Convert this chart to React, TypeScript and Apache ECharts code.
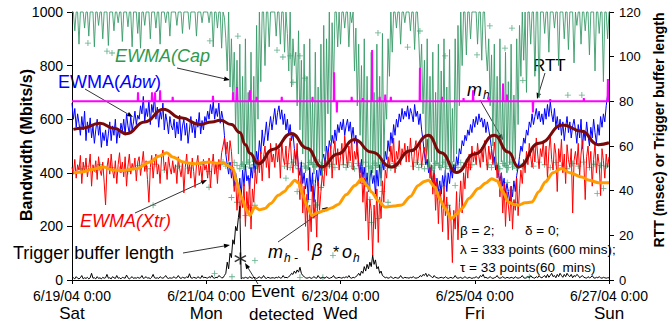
import React, { useEffect, useRef } from 'react';
import * as echarts from 'echarts';

// ---- time axis (hours from 6/19/04 0:00) ----
const xDates = ['6/19/04 0:00', '6/21/04 0:00', '6/23/04 0:00', '6/25/04 0:00', '6/27/04 0:00'];
const xDays = ['Sat', 'Mon', 'Wed', 'Fri', 'Sun'];
const STEP = 0.5; // hours between samples of the dense series

// EWMA(Xtr) (Mbits/s), every 0.5 h
const xtr = [
  420,395,450,380,430,410,465,360,440,400,455,385,420,470,350,430,405,445,375,460,410,390,440,365,
  280,420,455,395,470,410,380,445,360,430,475,400,440,385,460,350,425,470,395,435,410,455,370,440,
  460,390,435,480,405,445,375,290,420,465,380,440,470,395,430,360,455,485,410,440,375,460,420,395,
  445,400,430,360,460,415,385,440,325,420,470,395,435,380,455,405,345,430,465,390,425,370,450,410,
  430,380,455,345,420,470,395,440,360,450,410,475,500,530,470,515,445,520,480,400,330,380,260,350,
  230,310,270,360,200,330,250,380,190,340,290,410,360,450,400,480,370,460,500,420,470,380,510,440,
  470,420,510,440,490,380,520,455,430,500,410,475,530,445,400,485,430,510,380,300,420,250,350,200,
  320,110,280,180,350,230,300,160,370,260,330,400,350,450,390,480,420,500,380,470,520,430,490,410,
  460,510,430,540,470,420,500,445,530,410,480,450,520,440,360,420,290,380,220,330,150,300,260,90,
  280,190,340,140,310,230,370,290,410,380,460,420,500,440,530,400,480,450,520,430,490,460,510,440,
  500,440,530,460,410,490,520,430,480,510,420,470,495,440,525,455,380,430,320,400,260,370,210,340,
  300,180,350,240,310,150,280,220,65,260,190,330,150,290,370,250,400,340,450,380,470,410,500,440,
  480,430,510,460,420,495,440,520,470,410,500,450,485,430,515,460,380,440,310,400,250,360,200,330,
  280,220,350,190,300,260,380,240,340,410,360,450,400,480,430,510,460,420,500,440,530,470,415,490,
  460,520,430,500,380,480,540,450,410,510,470,330,490,440,525,400,470,360,505,450,420,490,250,445,
  480,430,510,390,470,520,440,300,460,500,420,480,350,450,510,400,470,430,315,490,445,380,470,420,
  460,
];

// EWMA(Abw) (Mbits/s), every 0.5 h
const abw = [
  660,600,640,570,620,585,540,610,560,630,520,590,550,605,530,575,510,560,600,540,580,495,550,520,
  560,500,545,590,520,575,540,600,510,565,530,585,555,600,540,620,575,545,610,560,590,630,580,615,
  600,650,620,685,590,640,610,670,580,655,625,690,600,645,570,630,600,660,560,620,590,545,610,575,
  560,600,530,590,545,615,520,575,600,540,585,510,560,610,550,590,530,600,570,625,545,595,560,610,
  590,630,600,655,620,665,600,640,610,660,585,630,600,540,470,430,395,440,380,420,350,400,370,330,
  380,310,410,350,430,370,390,340,420,380,450,400,480,440,520,470,560,500,540,590,520,570,610,560,
  600,640,580,625,650,600,635,580,620,560,600,540,580,520,550,490,450,480,420,390,440,360,400,340,
  380,300,420,330,400,290,360,410,350,430,390,450,470,430,500,460,520,490,540,510,560,520,580,550,
  590,560,600,540,575,600,555,590,530,570,510,540,480,430,400,450,380,420,350,400,330,380,410,360,
  390,320,410,350,430,380,440,410,480,450,520,480,550,510,580,540,600,570,620,590,640,600,630,610,
  650,600,640,620,590,655,610,630,580,620,560,520,470,430,450,400,420,380,360,410,340,380,330,370,
  320,390,350,410,330,400,360,420,380,430,400,460,430,490,470,520,500,540,520,560,540,580,550,600,
  570,610,580,620,590,605,570,600,550,590,560,530,490,440,460,410,430,390,370,400,350,380,320,360,
  330,290,350,310,370,330,390,420,460,500,480,530,510,560,540,590,570,620,580,610,640,600,630,590,
  620,580,640,600,655,610,665,620,590,640,570,610,560,600,540,590,520,570,610,550,590,530,575,600,
  560,510,580,530,600,490,560,520,590,540,500,570,530,600,550,510,580,540,610,570,620,590,650,690,
  680,
];

// EWMA(Cap) (Mbits/s), every 0.5 h
const cap = [
  1000,1000,930,1000,1000,880,1000,1000,1000,940,1000,1000,910,1000,1000,1000,870,1000,1000,950,1000,1000,900,1000,
  1000,1000,875,1000,1000,1000,930,1000,1000,960,1000,1000,890,1000,1000,1000,945,1000,1000,870,1000,1000,1000,920,
  1000,865,1000,1000,950,1000,1000,1000,900,1000,1000,1000,940,1000,1000,880,1000,1000,1000,960,1000,1000,910,1000,
  1000,1000,1000,950,1000,1000,1000,920,1000,1000,1000,1000,935,1000,1000,1000,1000,910,1000,1000,1000,960,1000,1000,
  1000,1000,960,1000,1000,870,1000,1000,940,1000,1000,865,1000,980,900,780,1000,720,900,670,850,560,820,470,
  880,420,760,410,900,430,700,415,850,440,760,425,950,600,1000,740,1000,1000,800,1000,1000,870,1000,1000,
  1000,1000,910,1000,1000,880,1000,1000,850,1000,920,780,1000,720,900,800,850,650,930,560,820,470,880,400,
  760,410,900,430,680,395,850,420,720,440,880,390,950,480,900,620,1000,520,960,700,1000,1000,870,1000,
  880,1000,1000,940,1000,1000,870,1000,960,1000,780,940,650,880,540,800,430,900,380,760,420,340,850,400,
  700,360,880,420,760,350,920,450,680,600,900,760,1000,850,1000,1000,940,1000,1000,880,1000,1000,960,1000,
  1000,1000,930,1000,1000,860,1000,1000,900,760,880,620,820,480,900,420,760,440,850,400,700,430,880,410,
  780,420,900,390,720,430,860,410,640,440,900,470,950,650,1000,800,1000,1000,840,1000,1000,900,1000,1000,
  1000,1000,880,1000,1000,820,1000,1000,860,780,900,650,840,500,880,430,760,410,900,440,700,420,850,400,
  740,430,880,410,690,450,900,580,950,760,1000,820,1000,700,1000,1000,880,1000,1000,760,1000,1000,680,1000,
  1000,1000,920,1000,1000,850,1000,1000,1000,940,1000,1000,800,1000,1000,1000,900,1000,1000,860,1000,1000,1000,810,
  1000,950,1000,1000,880,1000,1000,930,1000,1000,840,1000,1000,1000,780,1000,1000,920,1000,1000,740,1000,1000,900,
  1000,
];

// Trigger buffer length (right axis), every 0.5 h
const trigger = [
  0.5,1,0.5,1.5,0.8,0.5,1,2,0.5,1,0.7,1.2,0.5,1,3,0.8,1,0.5,1.5,0.7,1,0.5,1.2,0.8,
  1,2.5,0.8,1,0.5,1.5,1,0.7,2,0.8,1,0.5,1.2,1,0.8,2.2,1,0.5,1,1.5,0.7,1,0.8,1.2,
  0.8,1,2,0.7,1,1.5,0.8,1,0.6,1.2,2.5,1,0.8,1,0.7,1.5,1,0.8,1.2,2,1,0.7,1,0.8,
  1,1.5,0.8,1,2,1,0.7,1.2,1,0.8,1.5,1,2.8,1,0.8,1.2,1,0.7,1.5,1,0.8,2,1,1.2,
  1,0.8,1.5,1,2,1,0.8,1.2,1,2,1.5,1,1,2,3,8,5,12,10,18,16,24,22,28,
  33,0.5,1,0.8,1.2,1,0.7,1.5,1,0.8,1.2,1,0.7,1,1.5,0.8,1,2,1,0.7,1.2,1,0.8,1,
  1,0.8,1.2,1,1.5,0.8,1,2,1,1.2,1,1.5,2,3,2.5,4,3,4.5,3.5,5.7,3,2,1.5,1,
  0.8,1,1.2,0.7,1,1.5,1,0.8,2,1,0.7,1.2,1,0.8,1.5,1,0.7,1,1.2,2,1,0.8,1,1.2,
  1,0.8,1.2,1,1.5,1,2,1,0.8,1.2,1,1.5,2,3,2,4,3,6,4,7,5,8,6,11,
  7,9,5,6,3,4,2,1.5,1,1.2,0.8,1,1.5,1,0.7,1.2,1,0.8,1,2,1,0.8,1.2,1,
  1,0.8,1.2,1,1.5,1,0.8,1,1.2,2,1.5,2.5,2,3,1.5,2.5,2,1.5,1,2,1.2,1,0.8,1,
  1.2,1,0.8,1.5,1,0.7,1,1.2,0.8,1,2,1,0.8,1,1.2,0.7,1,1.5,1,0.8,1.2,1,0.7,1,
  1,1.5,1,0.8,2,1.5,2.5,1,1.2,0.8,1,1.5,1,0.7,1,1.2,2,1,0.8,1,1.5,1,0.8,1.2,
  1,0.8,1.2,1,0.7,1.5,1,0.8,1,1.2,2,1,0.8,1,1.5,1,2,1.2,1,0.8,1.5,1,2,1.2,
  1,1.5,2,1,2.5,1.2,2,3,1.5,2,1,2.5,1.5,3,2,1.2,2.5,1.5,3,2,1.5,2.5,1,2,
  1.5,2.5,2,1,1.5,2,1.2,1,0.8,1.5,1,1.2,2,1,0.8,1.2,1,1.5,1,0.8,1.2,1,0.8,1,
  1,
];

// RTT (msec, right axis): baseline and single-sample spikes [hour, value]
const rttBase = 80;
const rttSpikes = [
  [23.6,84],[28.6,84],[29.7,84],[31.5,85],[36,82],[50.4,82.5],[57.6,84],[59,86.4],[63.6,85],[66,82],
  [75,82],[86,82],[93.7,93],[94.7,75],[100,82],[104,81.5],[107.3,103],[110,82],[112,83],[114,82],
  [124.4,95],[132.3,82],[140,81.5],[143.4,85],[149,82],[154.1,88],[155.5,83],[164.8,75],[171,81],
  [183,81.5],[191.6,90],
];

// m_h (smooth mean) [hour, Mbits/s]
const mh = [
  [0.5,562],[3.5,566],[10,585],[15,566],[19.5,546],[26,590],[32.6,637],[39,605],[45.8,580],[50,590],
  [53,596],[57,580],[60,550],[62,505],[63.6,473],[66.6,434],[72,488],[78.5,547],[84,492],[89.3,422],
  [95,470],[101,524],[107,478],[114.3,422],[121,482],[127.4,540],[132,475],[137.5,401],[144,470],
  [151,540],[156,478],[159.6,422],[167,510],[175.5,578],[182,556],[188.2,505],[192,512],
];

// m_h - beta*o_h [hour, Mbits/s]
const mhBo = [
  [0.5,400],[3.5,403],[7,412],[11.3,422],[14.5,410],[18.3,409],[23.2,416],[27.9,440],[31,462],[33.9,475],
  [36,459],[39.8,440],[42,436],[44.6,434],[47,438],[49.3,440],[52,436],[54,438],[56,425],[57.6,415],
  [58.9,366],[60.5,310],[62.5,260],[63.6,241],[65.4,272],[67,262],[69,267],[71,285],[73.8,316],[76,330],
  [77.5,350],[79.7,372],[81,362],[82.5,320],[83.9,279],[85.7,241],[88,252],[90.5,260],[93,270],[95.2,282],
  [98,318],[101.2,353],[103.6,378],[105.5,352],[107.1,328],[109.5,296],[111.9,272],[115,276],[117.9,280],
  [121,312],[123.8,353],[126,368],[127.4,372],[129.8,347],[131.5,302],[133.4,266],[135.7,229],[137.5,246],
  [139.3,266],[142,305],[145.3,341],[148,362],[150,378],[152,370],[154,330],[156,291],[158,282],[159.6,279],
  [162,288],[164.4,291],[167,330],[169.2,366],[172,400],[175,416],[178,400],[182.2,384],[185,372],
  [188.2,363],[192,363],
];

// green "+" points [hour, Mbits/s]
const ohUpper = [
  [5.7,884],[12.5,854],[14.3,847],[49.3,892],[59.3,910],[73.3,858],[75.4,832],[78,836],[79,738],[81.5,836],
  [83.3,753],[109.4,922],[120,869],[124.4,929],[133.4,836],[144.8,840],[149.4,948],[154.8,865],[157.3,940],
  [161.2,745],[177.3,690],[182.3,690],
];
const ohBand = [
  [3,415],[5,425],[8.5,410],[10,430],[14,420],[17,412],[20,405],[24,428],[27,415],[30,432],[33,410],[38,425],
  [42,418],[46,430],[49,405],[52,425],
  [53,430],[54,440],[55,425],[56,435],[57,420],[58,438],[59,428],[60,415],[61,432],[62,422],[63,440],[64,418],
  [65,430],[66,425],[67,436],
  [76,425],[77,435],[78,420],[79,440],[80,428],[81,415],[82,436],[83,425],[84,418],[85,438],[86,430],[87,422],
  [88,440],[89,428],[90,418],[91,435],[92,425],[93,432],[94,420],
  [97,430],[98,420],[99,438],[100,425],[101,415],[102,435],[103,428],[104,420],[105,440],[106,425],[107,418],
  [108,436],[109,428],[110,420],[111,438],[112,425],[113,430],[114,418],[115,435],[116,425],
  [122,425],[123,438],[124,420],[125,432],[126,415],[127,440],[128,425],[129,418],[130,435],[131,428],[132,420],
  [133,440],[134,425],[135,415],[136,432],[137,428],[138,420],[139,438],[140,425],[141,432],[142,420],[143,430],
  [149,430],[150,420],[151,438],[152,425],[153,415],[154,435],[155,428],[156,420],[157,440],[158,425],[159,418],
  [160,432],[161,425],[162,436],
  [165,425],[167,440],[169,430],[171,420],[173,438],[175,428],[177,415],[179,435],[181,425],[183,440],[185,420],
  [187,432],[189,428],[191,425],
];
const ohLow = [
  [29,279],[49,346],[57,308],[59,290],[62,240],[63.5,270],[65.4,279],[76.5,380],[80.5,330],[84.5,300],[86,370],
  [87.5,280],[89,345],[93.3,92],[104.5,360],[106.5,300],[107,215],[109.4,230],[111,330],[113,290],[129,379],
  [131,316],[133,350],[134.4,279],[137,353],[155.6,364],[156.6,335],[158.4,290],[187.8,323],[190,342],
  [51,24],[57.2,12],[65.4,73],[81.5,10],[89.7,10],[163.5,12],
];

// event detected marker [hour, right-axis value]
const eventPt = [[60.2, 9.6]];

const SANS = '"Liberation Sans", Arial, Helvetica, sans-serif';
const GREEN = '#3a9b6a';
const PLUS = 'path://M4.3,0h1.4v10h-1.4zM0,4.3h10v1.4h-10z';
const STAR = 'path://M5.3,0L6.7,0L6.7,12L5.3,12ZM10.846,9.606L11.546,8.394L1.154,2.394L0.454,3.606ZM0.454,8.394L1.154,9.606L11.546,3.606L10.846,2.394Z';

const toPts = (vals: number[]) => vals.map((v, i) => [i * STEP, v]);

function buildRtt() {
  const pts: number[][] = [[0, rttBase]];
  rttSpikes.forEach(([h, v]) => {
    pts.push([h - 0.12, rttBase], [h, v], [h + 0.12, rttBase]);
  });
  pts.push([192, rttBase]);
  return pts;
}

function arrow(x1: number, y1: number, x2: number, y2: number) {
  const dx = x2 - x1, dy = y2 - y1;
  const L = Math.sqrt(dx * dx + dy * dy);
  const ux = dx / L, uy = dy / L;
  const len = 6, w = 2.3;
  const bx = x2 - ux * len, by = y2 - uy * len;
  return [
    { type: 'line', shape: { x1, y1, x2: bx, y2: by }, style: { stroke: '#000', lineWidth: 0.8 }, silent: true },
    {
      type: 'polygon',
      shape: { points: [[x2, y2], [bx - uy * w, by + ux * w], [bx + uy * w, by - ux * w]] },
      style: { fill: '#000' },
      silent: true,
    },
  ];
}

function txt(x: number, y: number, text: string, size: number, fill: string, opts: any = {}) {
  return {
    type: 'text',
    x,
    y,
    rotation: opts.rotation || 0,
    silent: true,
    style: {
      text,
      fill,
      fontSize: size,
      fontFamily: SANS,
      fontStyle: opts.italic ? 'italic' : 'normal',
      fontWeight: opts.bold ? 'bold' : 'normal',
      textAlign: opts.align || 'left',
      align: opts.align || 'left',
      textVerticalAlign: 'middle',
      verticalAlign: 'middle',
    },
  };
}

function buildOption() {
  const graphics: any[] = [
    txt(26, 145, 'Bandwidth (Mbits/s)', 16, '#000', { bold: true, align: 'center', rotation: Math.PI / 2 }),
    txt(659, 130, 'RTT (msec) or Trigger buffer length', 14, '#000', { bold: true, align: 'center', rotation: Math.PI / 2 }),
    txt(115, 56, 'EWMA(Cap', 18, '#2e9a4e', { italic: true }),
    txt(58, 82, 'EWMA(', 18, '#0000ff'),
    txt(120, 82, 'Abw', 18, '#0000ff', { italic: true }),
    txt(155, 82, ')', 18, '#0000ff'),
    txt(533, 65, 'RTT', 17, '#000'),
    txt(467, 90, 'm', 18, '#000', { italic: true }),
    txt(483, 95, 'h', 12, '#000', { italic: true }),
    txt(80, 221, 'EWMA(Xtr)', 18, '#ff0000', { italic: true }),
    txt(13, 253, 'Trigger buffer length', 18, '#000'),
    txt(268, 252, 'm', 18, '#000', { italic: true }),
    txt(284, 258, 'h -', 12, '#000', { italic: true }),
    txt(312, 250, 'β', 18, '#000', { italic: true }),
    txt(333, 252, '*', 16, '#000'),
    txt(342, 252, 'o', 18, '#000', { italic: true }),
    txt(353, 258, 'h', 12, '#000', { italic: true }),
    txt(251, 291, 'Event', 17, '#000'),
    txt(249, 314, 'detected', 17, '#000'),
    txt(460, 230, 'β = 2;', 13.5, '#000'),
    txt(525, 230, 'δ = 0;', 13.5, '#000'),
    txt(460, 249, 'λ = 333 points (600 mins);', 13.5, '#000'),
    txt(460, 267, 'τ = 33 points(60  mins)', 13.5, '#000'),
    ...arrow(177, 68, 230, 80),
    ...arrow(85, 89, 133, 117),
    ...arrow(545, 73, 537, 99),
    ...arrow(480, 100, 503, 140),
    ...arrow(135, 213, 207, 180),
    ...arrow(183, 253, 230, 245),
    ...arrow(278, 242, 328, 207),
    ...arrow(258, 284, 245, 263),
  ];

  return {
    animation: false,
    backgroundColor: '#fff',
    grid: { left: 72, right: 63, top: 12, bottom: 45, containLabel: false },
    xAxis: {
      type: 'value',
      min: 0,
      max: 192,
      interval: 48,
      splitLine: { show: false },
      axisLine: { show: true, onZero: false, lineStyle: { color: '#000', width: 1 } },
      axisTick: { show: true, length: 4, lineStyle: { color: '#000' } },
      axisLabel: {
        margin: 8,
        formatter: (v: number) => {
          const i = Math.round(v / 48);
          return '{d|' + xDates[i] + '}\n{w|' + xDays[i] + '}';
        },
        rich: {
          d: { fontSize: 14, lineHeight: 16, fontFamily: SANS, color: '#000' },
          w: { fontSize: 17, lineHeight: 19, fontFamily: SANS, color: '#000' },
        },
      },
    },
    yAxis: [
      {
        type: 'value',
        position: 'left',
        min: 0,
        max: 1000,
        interval: 200,
        splitLine: { show: false },
        axisLine: { show: true, lineStyle: { color: '#000', width: 1 } },
        axisTick: { show: true, length: 5, lineStyle: { color: '#000' } },
        axisLabel: { margin: 9, fontSize: 14, fontFamily: SANS, color: '#000', formatter: (v: number) => String(v) },
      },
      {
        type: 'value',
        position: 'right',
        min: 0,
        max: 120,
        interval: 20,
        splitLine: { show: false },
        axisLine: { show: true, lineStyle: { color: '#000', width: 1 } },
        axisTick: { show: true, length: 5, lineStyle: { color: '#000' } },
        axisLabel: { margin: 10, fontSize: 13, fontFamily: SANS, color: '#000', formatter: (v: number) => String(v) },
      },
    ],
    series: [
      {
        type: 'line', name: 'EWMA(Abw)', data: toPts(abw), yAxisIndex: 0,
        symbol: 'none', showSymbol: false, lineStyle: { color: '#0000ff', width: 1 },
      },
      {
        type: 'line', name: 'EWMA(Xtr)', data: toPts(xtr), yAxisIndex: 0,
        symbol: 'none', showSymbol: false, lineStyle: { color: '#ff0000', width: 1 },
      },
      {
        type: 'line', name: 'EWMA(Cap)', data: toPts(cap), yAxisIndex: 0, clip: false,
        symbol: 'none', showSymbol: false, lineStyle: { color: GREEN, width: 0.9 },
      },
      {
        type: 'scatter', name: 'oh', data: [...ohUpper, ...ohBand, ...ohLow], yAxisIndex: 0,
        symbol: PLUS, symbolSize: 6, itemStyle: { color: GREEN },
      },
      {
        type: 'line', name: 'm_h', data: mh, yAxisIndex: 0, smooth: 0.5, smoothMonotone: 'x',
        symbol: 'none', showSymbol: false, lineStyle: { color: '#7a0a0a', width: 3 },
      },
      {
        type: 'line', name: 'm_h - beta*o_h', data: mhBo, yAxisIndex: 0, smooth: 0.3, smoothMonotone: 'x',
        symbol: 'none', showSymbol: false, lineStyle: { color: '#ff9d00', width: 3 },
      },
      {
        type: 'line', name: 'RTT', data: buildRtt(), yAxisIndex: 1,
        symbol: 'none', showSymbol: false, lineStyle: { color: '#ff00ff', width: 2 },
      },
      {
        type: 'line', name: 'Trigger buffer length', data: toPts(trigger), yAxisIndex: 1,
        symbol: 'none', showSymbol: false, lineStyle: { color: '#000', width: 1 },
      },
      {
        type: 'scatter', name: 'Event', data: eventPt, yAxisIndex: 1,
        symbol: STAR, symbolSize: 12, itemStyle: { color: '#000' }, z: 5,
      },
    ],
    graphic: graphics,
  };
}

export default function App() {
  const ref = useRef<HTMLDivElement>(null);
  useEffect(() => {
    if (!ref.current) return;
    const chart = echarts.init(ref.current, null, { renderer: 'svg' });
    chart.setOption(buildOption() as any);
    return () => chart.dispose();
  }, []);
  return (
    <div
      ref={ref}
      style={{ position: 'fixed', left: 0, top: 0, width: 672, height: 325, background: '#fff' }}
    />
  );
}
